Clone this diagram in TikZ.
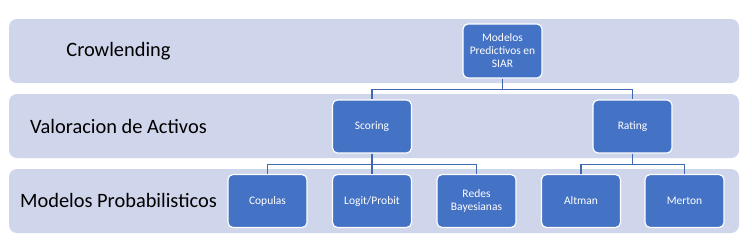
\documentclass[tikz,border=0pt]{standalone}
\usepackage{fontspec}
\setmainfont{Carlito}
\definecolor{bandfill}{HTML}{CFD5EA}
\definecolor{boxfill}{HTML}{4472C4}
\definecolor{linecol}{HTML}{4068B0}
\begin{document}
\begin{tikzpicture}[x=1pt,y=-1pt,
  band/.style={fill=bandfill,rounded corners=8pt,draw=none},
  box/.style={fill=boxfill,draw=white,line width=1.2pt,rounded corners=5pt,minimum width=79pt,minimum height=53pt,text=white,font=\fontsize{11.5}{13}\selectfont,align=center,inner sep=1pt},
  lvl/.style={font=\fontsize{20.4}{24}\selectfont,text=black},
  conn/.style={draw=linecol,line width=1.6pt}]
\useasboundingbox (0,0) rectangle (752,250);
\fill[white] (0,0) rectangle (752,250);
\path[band] (9,19) rectangle (739,83);
\path[band] (9,94) rectangle (739,158);
\path[band] (9,169) rectangle (739,233);
\node[lvl] (l1) at (118.5,51) {Crowlending};
\node[lvl] (l2) at (118.5,126) {Valoracion de Activos};
\node[lvl] (l3) at (118.5,200) {Modelos Probabilisticos};
\node[box,minimum height=54pt] (top) at (502.5,51) {Modelos\\Predictivos en\\SIAR};
\node[box] (sc) at (372,126.5) {Scoring};
\node[box] (ra) at (632.5,126.5) {Rating};
\node[box] (co) at (267.5,201) {Copulas};
\node[box] (lp) at (372,201) {Logit/Probit};
\node[box] (rb) at (476.5,201) {Redes\\Bayesianas};
\node[box] (al) at (581,201) {Altman};
\node[box] (me) at (684.5,201) {Merton};
\draw[conn] (top.south) -- ++(0,11) -| (sc.north);
\draw[conn] (top.south) -- ++(0,11) -| (ra.north);
\draw[conn] (sc.south) -- ++(0,11) -| (co.north);
\draw[conn] (sc.south) -- (lp.north);
\draw[conn] (sc.south) -- ++(0,11) -| (rb.north);
\draw[conn] (ra.south) -- ++(0,11) -| (al.north);
\draw[conn] (ra.south) -- ++(0,11) -| (me.north);
\end{tikzpicture}
\end{document}
